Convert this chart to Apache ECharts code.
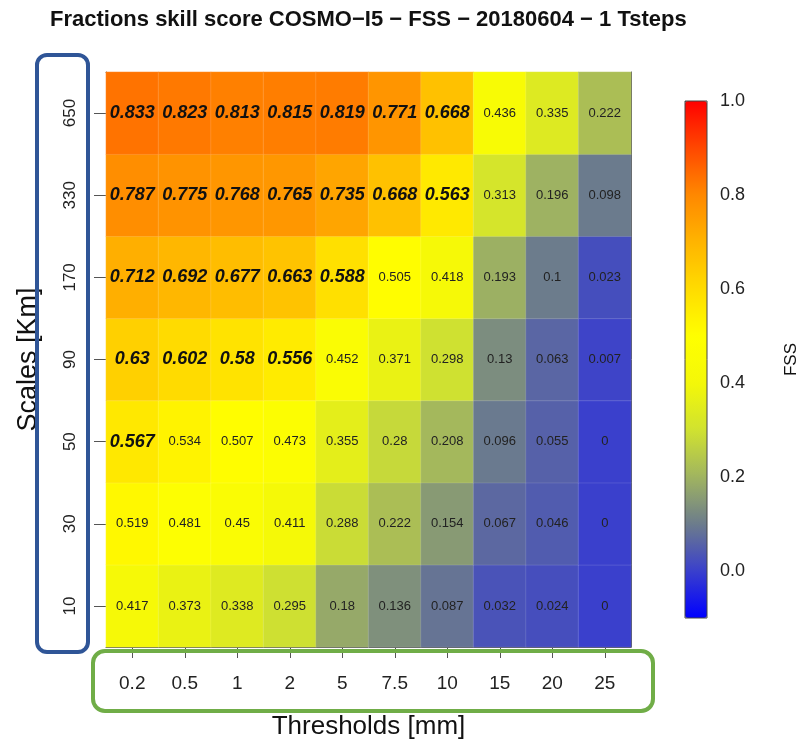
<!DOCTYPE html>
<html>
<head>
<meta charset="utf-8">
<script src="https://cdn.jsdelivr.net/npm/echarts@6/dist/echarts.min.js"></script>
<style>html,body{margin:0;padding:0;background:#fff;}#c{width:799px;height:739px;}</style>
</head>
<body>
<div id="c"></div>
<script>
// Thresholds (x categories)
const thresholds = ['0.2', '0.5', '1', '2', '5', '7.5', '10', '15', '20', '25'];
// Scales (y categories, bottom to top)
const scales = ['10', '30', '50', '90', '170', '330', '650'];
// FSS values, one row per scale (bottom to top)
const fss10  = [0.417, 0.373, 0.338, 0.295, 0.18, 0.136, 0.087, 0.032, 0.024, 0];
const fss30  = [0.519, 0.481, 0.45, 0.411, 0.288, 0.222, 0.154, 0.067, 0.046, 0];
const fss50  = [0.567, 0.534, 0.507, 0.473, 0.355, 0.28, 0.208, 0.096, 0.055, 0];
const fss90  = [0.63, 0.602, 0.58, 0.556, 0.452, 0.371, 0.298, 0.13, 0.063, 0.007];
const fss170 = [0.712, 0.692, 0.677, 0.663, 0.588, 0.505, 0.418, 0.193, 0.1, 0.023];
const fss330 = [0.787, 0.775, 0.768, 0.765, 0.735, 0.668, 0.563, 0.313, 0.196, 0.098];
const fss650 = [0.833, 0.823, 0.813, 0.815, 0.819, 0.771, 0.668, 0.436, 0.335, 0.222];
// "useful" FSS target per threshold (values at/above shown bold italic)
const usefulTarget = [0.545, 0.54, 0.53, 0.52, 0.515, 0.51, 0.51, 0.505, 0.505, 0.5];
// colour bar ticks
const barTicks = [0, 0.2, 0.4, 0.6, 0.8, 1.0];
const barMin = -0.1, barMax = 1.0;

const rows = [fss10, fss30, fss50, fss90, fss170, fss330, fss650];
const data = [];
rows.forEach((row, yi) => {
  row.forEach((v, xi) => {
    const good = v >= usefulTarget[xi];
    data.push({
      value: [xi, yi, v],
      label: good
        ? { fontStyle: 'italic', fontWeight: 'bold', fontSize: 18, color: '#111' }
        : { fontStyle: 'normal', fontWeight: 'normal', fontSize: 13, color: '#222' }
    });
  });
});

const FONT = "'Liberation Sans', Arial, Helvetica, sans-serif";
const chart = echarts.init(document.getElementById('c'), null, { renderer: 'canvas' });
chart.setOption({
  backgroundColor: '#ffffff',
  animation: false,
  textStyle: { fontFamily: FONT },
  title: {
    text: 'Fractions skill score COSMO\u2212I5 \u2212 FSS \u2212 20180604 \u2212 1 Tsteps',
    left: 45, top: 4,
    textStyle: { fontSize: 22, fontWeight: 'bold', color: '#111', fontFamily: FONT }
  },
  grid: [
    { left: 106, top: 72, width: 525, height: 575, show: false, containLabel: false, outerBoundsMode: 'none' },
    { left: 685, top: 101, width: 22, height: 517, show: false, containLabel: false, outerBoundsMode: 'none' }
  ],
  xAxis: [
    {
      type: 'category', data: thresholds, gridIndex: 0, position: 'bottom',
      axisLine: { show: true, lineStyle: { color: '#555', width: 1 } },
      axisTick: { show: true, length: 11, alignWithLabel: true, lineStyle: { color: '#555' } },
      axisLabel: { fontSize: 19, color: '#222', margin: 27, fontFamily: FONT },
      splitLine: { show: false },
      name: 'Thresholds [mm]', nameLocation: 'middle', nameGap: 67,
      nameTextStyle: { fontSize: 26, color: '#111', fontFamily: FONT }
    },
    {
      type: 'category', data: thresholds, gridIndex: 0, position: 'top',
      axisLine: { show: true, lineStyle: { color: '#555', width: 1 } },
      axisTick: { show: false }, axisLabel: { show: false }
    },
    {
      type: 'value', gridIndex: 1, show: false, min: 0, max: 1
    }
  ],
  yAxis: [
    {
      type: 'category', data: scales, gridIndex: 0, position: 'left',
      axisLine: { show: true, lineStyle: { color: '#555', width: 1 } },
      axisTick: { show: true, length: 12, alignWithLabel: true, lineStyle: { color: '#555' } },
      axisLabel: { fontSize: 17, color: '#222', rotate: 90, margin: 27, fontFamily: FONT },
      splitLine: { show: false },
      name: 'Scales [Km]', nameLocation: 'middle', nameGap: 64, nameRotate: 90,
      nameTextStyle: { fontSize: 27, color: '#111', fontFamily: FONT }
    },
    {
      type: 'category', data: scales, gridIndex: 0, position: 'right',
      axisLine: { show: true, lineStyle: { color: '#555', width: 1 } },
      axisTick: { show: false }, axisLabel: { show: false }
    },
    {
      type: 'value', gridIndex: 1, position: 'right', min: barMin, max: barMax,
      axisLine: { show: false },
      axisTick: { show: true, length: 10, inside: false, customValues: barTicks, lineStyle: { color: '#555' } },
      axisLabel: {
        fontSize: 18, color: '#222', margin: 13, customValues: barTicks, fontFamily: FONT,
        formatter: v => Number(v).toFixed(1)
      },
      splitLine: { show: false },
      name: 'FSS', nameLocation: 'middle', nameGap: 76, nameRotate: 90,
      nameTextStyle: { fontSize: 17, color: '#111', fontFamily: FONT }
    }
  ],
  visualMap: {
    type: 'continuous',
    min: barMin, max: barMax,
    seriesIndex: 0, dimension: 2,
    calculable: false,
    orient: 'vertical',
    left: 685, top: 101,
    itemWidth: 22, itemHeight: 517,
    padding: 0,
    text: ['', ''],
    showLabel: false,
    inRange: {
      color: ['#0000ff', '#3a40cc', '#6c7c8c', '#a0b460', '#d0e230', '#f4f808',
              '#ffff00', '#ffdc00', '#ffb400', '#ff8800', '#ff4800', '#ff0000']
    }
  },
  graphic: [
    { type: 'rect', shape: { x: 685, y: 101, width: 22, height: 517 },
      style: { fill: 'none', stroke: '#444', lineWidth: 1 }, z: 100 },
    { type: 'rect', shape: { x: 37, y: 55, width: 51, height: 597, r: 10 },
      style: { fill: 'none', stroke: '#2f5597', lineWidth: 4 }, z: 100 },
    { type: 'rect', shape: { x: 93, y: 651, width: 560, height: 60, r: 12 },
      style: { fill: 'none', stroke: '#70ad47', lineWidth: 4 }, z: 100 }
  ],
  series: [{
    type: 'heatmap',
    xAxisIndex: 0, yAxisIndex: 0,
    data: data,
    itemStyle: { borderColor: 'rgba(255,255,255,0.25)', borderWidth: 0.5 },
    label: {
      show: true, fontFamily: FONT,
      formatter: p => String(p.value[2])
    },
    emphasis: { disabled: true }
  }]
});
</script>
</body>
</html>
